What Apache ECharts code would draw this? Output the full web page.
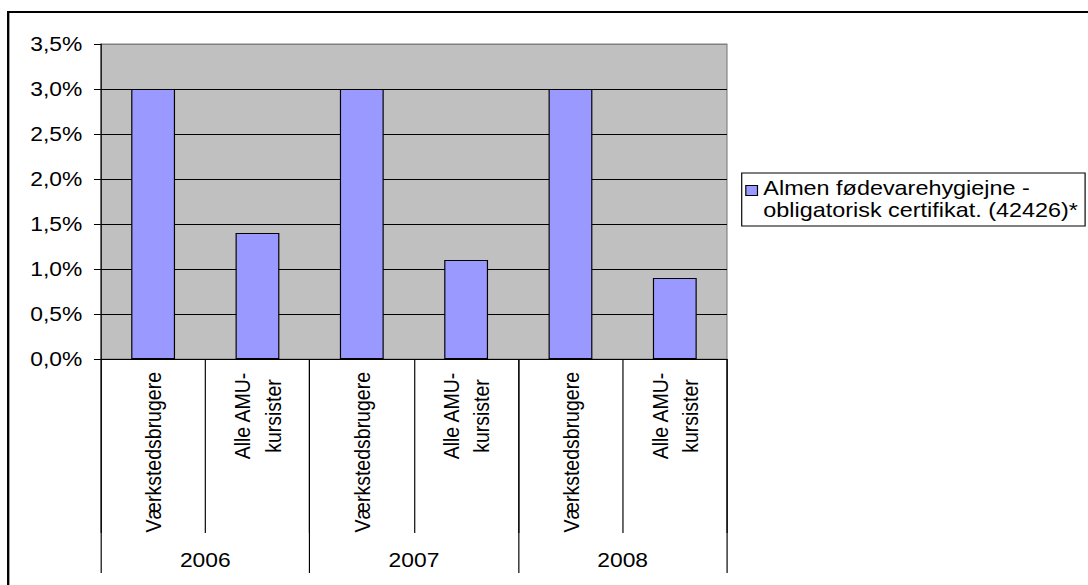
<!DOCTYPE html>
<html>
<head>
<meta charset="utf-8">
<script src="https://cdn.jsdelivr.net/npm/echarts@6/dist/echarts.min.js"></script>
<style>
html,body{margin:0;padding:0;background:#fff;overflow:hidden;width:1088px;height:585px;}
#c{width:930px;height:585px;transform:scaleX(1.169892);transform-origin:0 0;}
</style>
</head>
<body>
<div id="c"></div>
<script>
var subCategories = ['Værkstedsbrugere', 'Alle AMU-\nkursister', 'Værkstedsbrugere', 'Alle AMU-\nkursister', 'Værkstedsbrugere', 'Alle AMU-\nkursister'];
var years = ['2006', '2007', '2008'];
var seriesName = 'Almen fødevarehygiejne -\nobligatorisk certifikat. (42426)*';
var values = [3.0, 1.4, 3.0, 1.1, 3.0, 0.9];
var yTicks = { min: 0, max: 3.5, interval: 0.5 };

var chart = echarts.init(document.getElementById('c'), null, { renderer: 'svg' });
var font = 'Liberation Sans, Arial, sans-serif';
chart.setOption({
  animation: false,
  backgroundColor: '#fff',
  graphic: [{
    type: 'polyline',
    shape: { points: [[7, 620], [7, 12], [1000, 12]] },
    style: { stroke: '#000', lineWidth: 2, fill: null },
    silent: true
  }],
  grid: [
    { left: 86.3, top: 44, right: 308.6, bottom: 226, show: true, backgroundColor: '#C0C0C0', borderColor: '#808080', borderWidth: 1 },
    { left: 86.3, top: 359, right: 308.6, bottom: 12, show: false }
  ],
  legend: {
    show: true,
    left: 634, top: 173,
    orient: 'vertical',
    padding: [4, 6, 4, 3],
    itemWidth: 10, itemHeight: 44,
    borderColor: '#000', borderWidth: 1,
    icon: 'path://M0,8L10,8L10,18L0,18Z M0,0L0,0 M10,44L10,44',
    textStyle: { fontFamily: font, fontSize: 20, color: '#000', lineHeight: 22 },
    data: [{ name: seriesName, itemStyle: { color: '#9999FF', borderColor: '#000', borderWidth: 1 } }]
  },
  xAxis: [{
    type: 'category',
    gridIndex: 0,
    data: subCategories,
    position: 'bottom',
    axisLine: { show: true, lineStyle: { color: '#000', width: 1 } },
    axisTick: { show: true, interval: 0, length: 174, lineStyle: { color: '#000' } },
    axisLabel: {
      interval: 0, rotate: 90, margin: 13,
      fontFamily: font, fontSize: 19.5, color: '#000', lineHeight: 26,
      formatter: function (v) {
        if (v.indexOf('\n') < 0) { return v; }
        return v.split('\n').map(function (s) { return '{c|' + s + '}'; }).join('\n');
      },
      rich: { c: { width: 88, align: 'center', fontFamily: font, fontSize: 19.5, color: '#000', lineHeight: 26 } }
    },
    splitLine: { show: false }
  }, {
    type: 'category',
    gridIndex: 1,
    data: years,
    position: 'top',
    axisLine: { show: false, onZero: false },
    axisTick: { show: true, inside: true, interval: 0, length: 214, lineStyle: { color: '#000' } },
    axisLabel: { inside: true, interval: 0, margin: 190, fontFamily: font, fontSize: 19.5, lineHeight: 22, color: '#000' },
    splitLine: { show: false }
  }],
  yAxis: [{
    type: 'value',
    gridIndex: 0,
    min: yTicks.min, max: yTicks.max, interval: yTicks.interval,
    axisLine: { show: true, lineStyle: { color: '#000' } },
    axisTick: { show: true, length: 6, lineStyle: { color: '#000' } },
    axisLabel: {
      margin: 16, fontFamily: font, fontSize: 19.5, color: '#000',
      formatter: function (v) { return v.toFixed(1).replace('.', ',') + '%'; }
    },
    splitLine: { show: true, lineStyle: { color: ['#000', '#000', '#000', '#000', '#000', '#000', '#000', '#808080'], width: 1 } }
  }, {
    type: 'value',
    gridIndex: 1,
    min: yTicks.min, max: yTicks.max, interval: yTicks.interval,
    show: false
  }],
  series: [{
    name: seriesName,
    type: 'bar',
    xAxisIndex: 0,
    yAxisIndex: 0,
    data: values,
    barWidth: '42%',
    itemStyle: { color: '#9999FF', borderColor: '#000', borderWidth: 1 }
  }]
});
</script>
</body>
</html>
